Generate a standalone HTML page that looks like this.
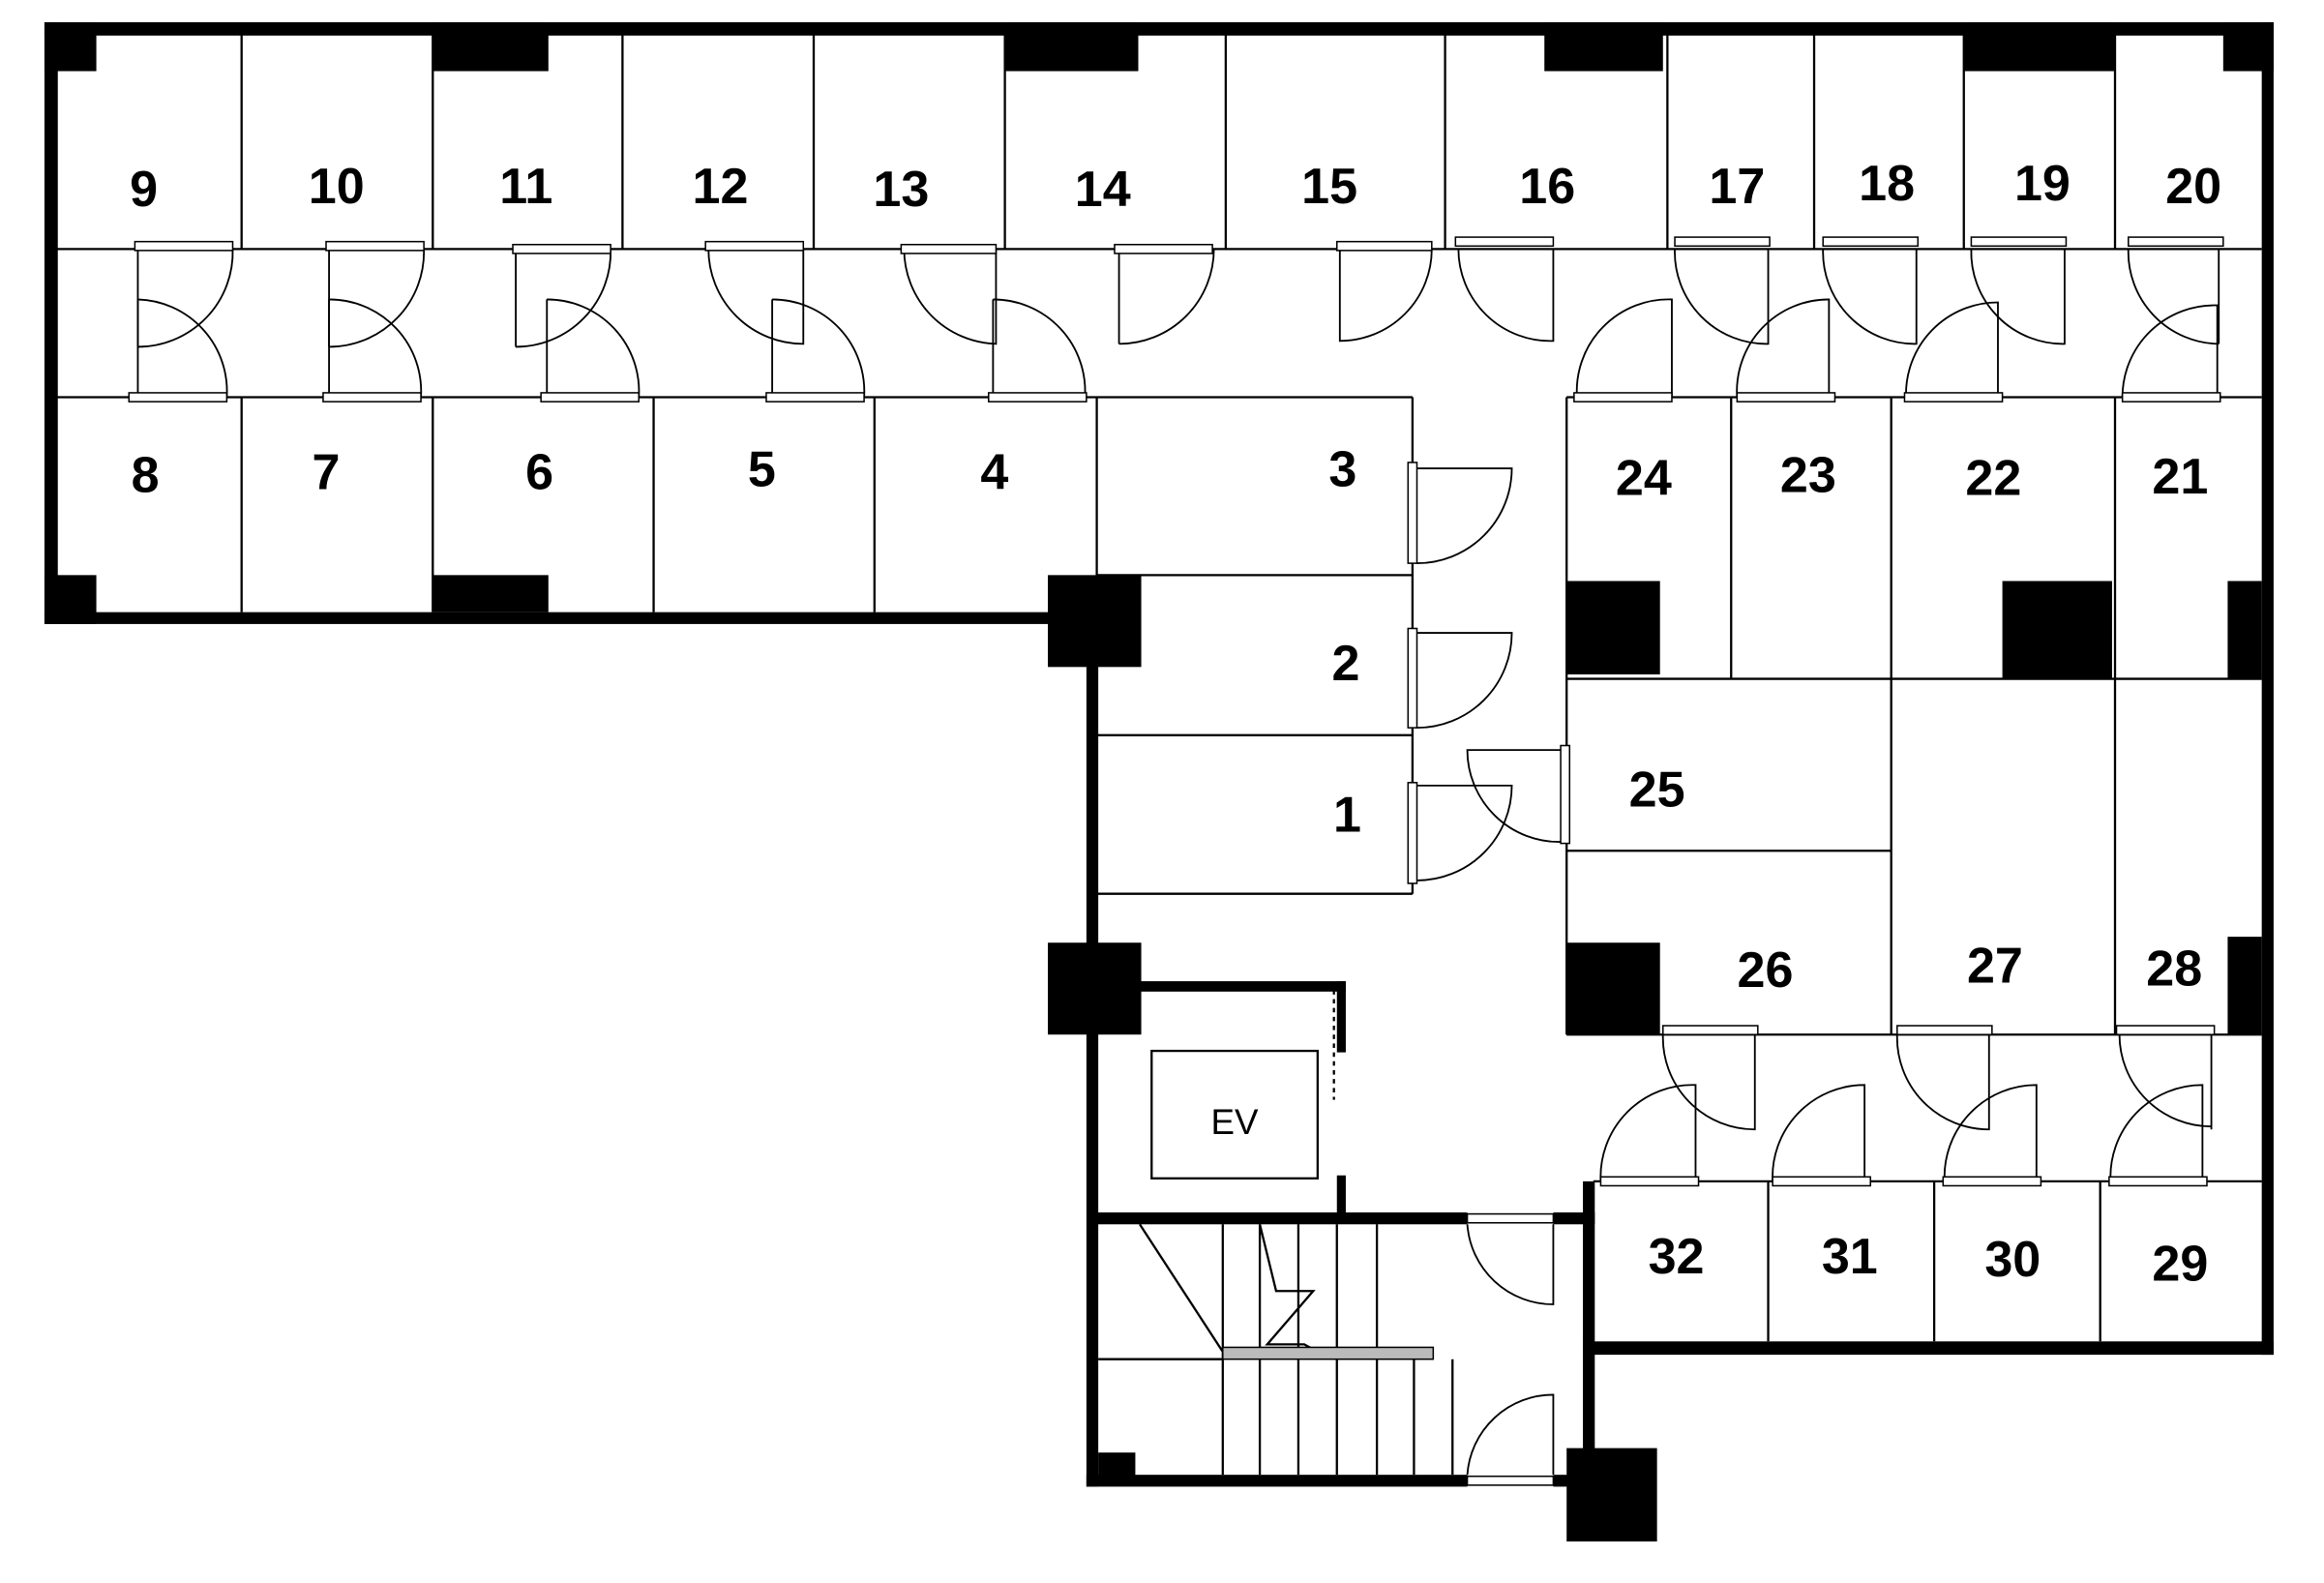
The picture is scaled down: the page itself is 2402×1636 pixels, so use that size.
<!DOCTYPE html>
<html><head><meta charset="utf-8"><style>
html,body{margin:0;padding:0;background:#fff}
svg{display:block}
text{font-family:"Liberation Sans",sans-serif;font-weight:bold;font-size:34px;text-anchor:middle;fill:#000}
</style></head><body>
<svg width="2402" height="1636" viewBox="0 0 1568 1068" preserveAspectRatio="none" xmlns="http://www.w3.org/2000/svg">
<rect width="1568" height="1068" fill="#fff"/>
<g stroke="#000" stroke-width="1.5" fill="none">
<path d="M163 23V168M292 23V168M420 23V168M549 23V168M678 23V168M827 23V168M975 23V168M1125 23V168M1224 23V168M1325 23V168M1427 23V168"/>
<path d="M38 168H1526M38 268H953M1057 268H1526"/>
<path d="M163 268V413M292 268V413M441 268V413M590 268V413M740 268V603M953 268V603M740 388H953M740 496H953M740 603H953"/>
<path d="M1057 268V698M1168 268V458M1276 268V698M1427 268V698M1057 458H1526M1057 574H1276M1057 698H1526M1075 797H1526M1193 797V905M1305 797V905M1417 797V905"/>
<rect x="777" y="709" width="112" height="86"/>
<path d="M900 668V742" stroke-dasharray="3 3"/>
<path d="M741 917H825M825 826V995M850 826V995M876 826V995M902 826V995M929 826V995M954 917V995M980 917V995M769 826L825 912M850 826L861 871H886L855 907H880L889 912"/>
</g>
<rect x="825" y="909" width="142" height="8" fill="#bbb" stroke="#000" stroke-width="1"/>
<g fill="#000">
<rect x="30" y="15" width="1504" height="9"/>
<rect x="30" y="15" width="9" height="406"/>
<rect x="30" y="413" width="710" height="8"/>
<rect x="1526" y="15" width="8" height="899"/>
<rect x="1068" y="905" width="466" height="9"/>
<rect x="733" y="413" width="8" height="590"/>
<rect x="733" y="995" width="257" height="8"/>
<rect x="1048" y="995" width="28" height="8"/>
<rect x="1068" y="797" width="8" height="206"/>
<rect x="740" y="818" width="250" height="8"/>
<rect x="1048" y="818" width="28" height="8"/>
<rect x="740" y="662" width="168" height="7"/>
<rect x="902" y="662" width="6" height="48"/>
<rect x="902" y="793" width="6" height="28"/>
<rect x="30" y="15" width="35" height="33"/>
<rect x="292" y="15" width="78" height="33"/>
<rect x="678" y="15" width="90" height="33"/>
<rect x="1042" y="15" width="80" height="33"/>
<rect x="1325" y="15" width="102" height="33"/>
<rect x="1500" y="15" width="34" height="33"/>
<rect x="30" y="388" width="35" height="33"/>
<rect x="292" y="388" width="78" height="25"/>
<rect x="707" y="388" width="63" height="62"/>
<rect x="707" y="636" width="63" height="62"/>
<rect x="1057" y="392" width="63" height="63"/>
<rect x="1351" y="392" width="74" height="66"/>
<rect x="1503" y="392" width="23" height="66"/>
<rect x="1057" y="636" width="63" height="62"/>
<rect x="1503" y="632" width="23" height="66"/>
<rect x="741" y="980" width="25" height="16"/>
<rect x="1057" y="977" width="61" height="63"/>
</g>
<g stroke="#000" stroke-width="1.2" fill="none">
<path d="M93 168V234M157 168A64 64 0 0 1 93 234"/>
<path d="M222 168V234M286 168A64 64 0 0 1 222 234"/>
<path d="M348 168V234M412 168A64 64 0 0 1 348 234"/>
<path d="M542 168V232A64 64 0 0 1 478 168"/>
<path d="M672 168V232A64 64 0 0 1 610 168"/>
<path d="M755 168V232M819 168A64 64 0 0 1 755 232"/>
<path d="M966 168A62 62 0 0 1 904 230V168"/>
<path d="M1048 168V230A62 62 0 0 1 984 168"/>
<path d="M1193 168V232A62 62 0 0 1 1130 168"/>
<path d="M1293 168V232A62 62 0 0 1 1230 168"/>
<path d="M1393 168V232A62 62 0 0 1 1330 168"/>
<path d="M1497 168V232M1497 232A62 62 0 0 1 1436 168"/>
<path d="M93 268V202M153 268A62 62 0 0 0 93 202"/>
<path d="M222 268V202M284 268A62 62 0 0 0 222 202"/>
<path d="M369 268V202M431 268A62 62 0 0 0 369 202"/>
<path d="M521 268V202M583 268A62 62 0 0 0 521 202"/>
<path d="M670 268V202M732 268A62 62 0 0 0 670 202"/>
<path d="M1128 268V202A62 62 0 0 0 1064 268"/>
<path d="M1234 268V202A62 62 0 0 0 1172 268"/>
<path d="M1348 268V204A62 62 0 0 0 1286 268"/>
<path d="M1496 268V206A62 62 0 0 0 1432 268"/>
<path d="M956 316H1020A64 64 0 0 1 956 380"/>
<path d="M956 427H1020A64 64 0 0 1 956 491"/>
<path d="M956 530H1020A64 64 0 0 1 956 594"/>
<path d="M1053 506H990A62 62 0 0 0 1053 568"/>
<path d="M1184 698V762A62 62 0 0 1 1122 698"/>
<path d="M1342 698V762A62 62 0 0 1 1280 698"/>
<path d="M1492 698V762M1430 698A62 62 0 0 0 1492 760"/>
<path d="M1144 797V732A62 62 0 0 0 1080 797"/>
<path d="M1258 797V732A62 62 0 0 0 1196 797"/>
<path d="M1374 797V732A62 62 0 0 0 1312 797"/>
<path d="M1486 797V732A62 62 0 0 0 1424 797"/>
<path d="M1048 826V880A58 58 0 0 1 990 826"/>
<path d="M1048 995V941A58 58 0 0 0 990 995"/>
</g>
<g fill="#fff" stroke="#000" stroke-width="1">
<rect x="91" y="163" width="66" height="6"/><rect x="220" y="163" width="66" height="6"/><rect x="346" y="165" width="66" height="6"/>
<rect x="476" y="163" width="66" height="6"/><rect x="608" y="165" width="64" height="6"/><rect x="752" y="165" width="66" height="6"/>
<rect x="902" y="163" width="64" height="6"/><rect x="982" y="160" width="66" height="6"/><rect x="1130" y="160" width="64" height="6"/>
<rect x="1230" y="160" width="64" height="6"/><rect x="1330" y="160" width="64" height="6"/><rect x="1436" y="160" width="64" height="6"/>
<rect x="87" y="265" width="66" height="6"/><rect x="218" y="265" width="66" height="6"/><rect x="365" y="265" width="66" height="6"/>
<rect x="517" y="265" width="66" height="6"/><rect x="667" y="265" width="66" height="6"/><rect x="1062" y="265" width="66" height="6"/>
<rect x="1172" y="265" width="66" height="6"/><rect x="1285" y="265" width="66" height="6"/><rect x="1432" y="265" width="66" height="6"/>
<rect x="950" y="312" width="6" height="68"/><rect x="950" y="424" width="6" height="67"/><rect x="950" y="528" width="6" height="68"/>
<rect x="1053" y="503" width="6" height="66"/>
<rect x="1122" y="692" width="64" height="6"/><rect x="1280" y="692" width="64" height="6"/><rect x="1428" y="692" width="66" height="6"/>
<rect x="1080" y="794" width="66" height="6"/><rect x="1196" y="794" width="66" height="6"/><rect x="1311" y="794" width="66" height="6"/><rect x="1423" y="794" width="66" height="6"/>
<rect x="990" y="819" width="58" height="6"/><rect x="990" y="996" width="58" height="6"/>
</g>
<g>
<text x="97" y="139">9</text><text x="227" y="137">10</text><text x="355" y="137">11</text><text x="486" y="137">12</text>
<text x="608" y="139">13</text><text x="744" y="139">14</text><text x="897" y="137">15</text><text x="1044" y="137">16</text>
<text x="1172" y="137">17</text><text x="1273" y="135">18</text><text x="1378" y="135">19</text><text x="1480" y="137">20</text>
<text x="98" y="332">8</text><text x="220" y="330">7</text><text x="364" y="330">6</text><text x="514" y="328">5</text><text x="671" y="330">4</text>
<text x="906" y="328">3</text><text x="908" y="459">2</text><text x="909" y="561">1</text>
<text x="1109" y="334">24</text><text x="1220" y="332">23</text><text x="1345" y="334">22</text><text x="1471" y="333">21</text>
<text x="1118" y="544">25</text><text x="1191" y="666">26</text><text x="1346" y="663">27</text><text x="1467" y="665">28</text>
<text x="1131" y="859">32</text><text x="1248" y="859">31</text><text x="1358" y="861">30</text><text x="1471" y="864">29</text>
<text x="833" y="765" style="font-weight:normal;font-size:24px">EV</text>
</g>
</svg>
</body></html>
